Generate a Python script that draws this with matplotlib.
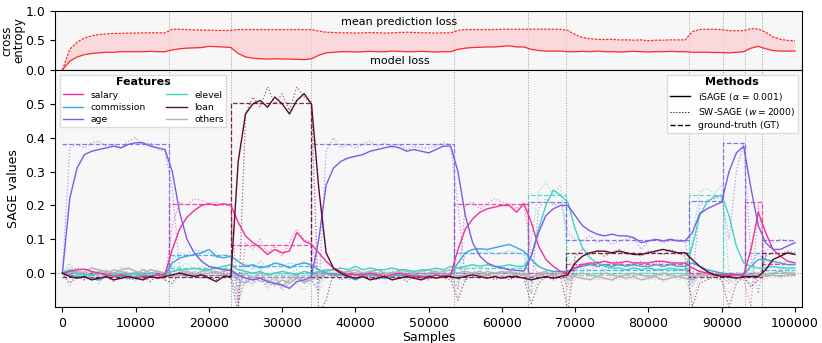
import numpy as np
import matplotlib.pyplot as plt
from matplotlib.lines import Line2D

# sample positions of the read-off values (every 1000 samples)
samples = np.arange(0, 100001, 1000)

# concept drift positions
drifts = [14500, 23000, 34000, 53500, 63500, 68800, 85500, 90200, 93200, 95500]

# ---- top panel: losses
model_loss = [
    0.0, 0.15, 0.22, 0.26, 0.28, 0.29, 0.30, 0.30, 0.31, 0.31,
    0.31, 0.31, 0.315, 0.31, 0.31, 0.34, 0.36, 0.37, 0.375, 0.38,
    0.40, 0.395, 0.39, 0.38, 0.28, 0.22, 0.20, 0.19, 0.185, 0.19,
    0.185, 0.185, 0.18, 0.175, 0.19, 0.25, 0.29, 0.30, 0.31, 0.31,
    0.305, 0.31, 0.315, 0.31, 0.31, 0.32, 0.315, 0.31, 0.31, 0.315,
    0.31, 0.305, 0.31, 0.31, 0.35, 0.37, 0.38, 0.385, 0.39, 0.39,
    0.40, 0.41, 0.39, 0.39, 0.35, 0.33, 0.32, 0.32, 0.32, 0.31,
    0.31, 0.315, 0.31, 0.32, 0.31, 0.31, 0.305, 0.31, 0.315, 0.31,
    0.305, 0.31, 0.31, 0.315, 0.31, 0.31, 0.30, 0.30, 0.30, 0.295,
    0.295, 0.29, 0.30, 0.31, 0.37, 0.40, 0.36, 0.33, 0.32, 0.32,
    0.32]
mean_pred_loss = [
    0.0, 0.35, 0.47, 0.54, 0.58, 0.60, 0.61, 0.62, 0.62, 0.625,
    0.625, 0.63, 0.63, 0.63, 0.63, 0.69, 0.69, 0.685, 0.68, 0.675,
    0.675, 0.67, 0.67, 0.67, 0.685, 0.685, 0.685, 0.685, 0.685, 0.685,
    0.685, 0.685, 0.685, 0.685, 0.685, 0.66, 0.64, 0.635, 0.63, 0.63,
    0.625, 0.63, 0.635, 0.63, 0.625, 0.63, 0.635, 0.64, 0.635, 0.63,
    0.63, 0.625, 0.63, 0.63, 0.67, 0.685, 0.685, 0.685, 0.685, 0.685,
    0.69, 0.69, 0.69, 0.69, 0.69, 0.69, 0.69, 0.69, 0.69, 0.67,
    0.60, 0.55, 0.53, 0.52, 0.515, 0.52, 0.51, 0.51, 0.505, 0.51,
    0.495, 0.505, 0.505, 0.51, 0.51, 0.51, 0.65, 0.685, 0.69, 0.69,
    0.685, 0.665, 0.665, 0.665, 0.70, 0.695, 0.64, 0.56, 0.52, 0.50,
    0.495]

# ---- bottom panel: iSAGE values
age_isage = [
    0.0, 0.22, 0.31, 0.35, 0.36, 0.365, 0.37, 0.375, 0.37, 0.38,
    0.385, 0.385, 0.375, 0.37, 0.365, 0.30, 0.18, 0.10, 0.06, 0.035,
    0.02, 0.015, 0.01, 0.008, -0.005, -0.015, -0.02, -0.015, -0.025, -0.03,
    -0.035, -0.045, -0.025, -0.02, -0.01, 0.10, 0.26, 0.31, 0.33, 0.34,
    0.345, 0.35, 0.36, 0.365, 0.37, 0.375, 0.37, 0.36, 0.365, 0.36,
    0.355, 0.365, 0.375, 0.375, 0.30, 0.17, 0.09, 0.05, 0.03, 0.02,
    0.015, 0.01, 0.008, 0.006, 0.05, 0.12, 0.17, 0.19, 0.20, 0.20,
    0.17, 0.14, 0.125, 0.115, 0.11, 0.115, 0.11, 0.11, 0.105, 0.09,
    0.095, 0.10, 0.095, 0.10, 0.095, 0.095, 0.12, 0.175, 0.19, 0.20,
    0.21, 0.30, 0.355, 0.375, 0.25, 0.14, 0.09, 0.07, 0.07, 0.08,
    0.09]
salary_isage = [
    0.0, 0.005, 0.01, 0.012, 0.005, 0.0, -0.005, -0.01, -0.005, -0.01,
    -0.015, -0.01, -0.01, -0.005, -0.005, 0.07, 0.13, 0.165, 0.185, 0.20,
    0.205, 0.20, 0.205, 0.20, 0.15, 0.11, 0.09, 0.075, 0.055, 0.07,
    0.06, 0.065, 0.12, 0.095, 0.085, 0.06, 0.035, 0.015, 0.005, -0.005,
    -0.005, -0.005, 0.0, -0.005, -0.01, -0.005, 0.0, -0.005, -0.01, -0.01,
    -0.015, -0.005, -0.01, -0.005, 0.07, 0.13, 0.16, 0.18, 0.19, 0.195,
    0.20, 0.20, 0.18, 0.205, 0.15, 0.08, 0.04, 0.02, 0.005, 0.0,
    0.015, 0.025, 0.03, 0.03, 0.035, 0.03, 0.03, 0.035, 0.03, 0.03,
    0.03, 0.035, 0.035, 0.03, 0.03, 0.03, 0.015, 0.005, 0.0, -0.005,
    -0.005, -0.005, -0.005, -0.005, 0.07, 0.18, 0.12, 0.07, 0.05, 0.035,
    0.03]
commission_isage = [
    0.0, -0.005, -0.01, -0.01, -0.015, -0.02, -0.01, -0.005, -0.01, -0.015,
    -0.01, -0.005, -0.01, -0.005, -0.005, 0.03, 0.045, 0.05, 0.055, 0.06,
    0.07, 0.05, 0.045, 0.05, 0.035, 0.02, 0.025, 0.015, 0.02, 0.03,
    0.025, 0.015, 0.025, 0.03, 0.025, 0.01, 0.0, -0.005, -0.005, -0.01,
    -0.02, -0.01, -0.005, -0.01, -0.015, -0.01, -0.005, -0.01, -0.005, -0.01,
    -0.01, -0.005, -0.01, -0.005, 0.03, 0.06, 0.07, 0.072, 0.07, 0.075,
    0.08, 0.085, 0.075, 0.065, 0.04, 0.02, 0.01, 0.005, 0.005, 0.005,
    0.015, 0.02, 0.025, 0.02, 0.025, 0.02, 0.025, 0.02, 0.025, 0.02,
    0.02, 0.025, 0.02, 0.025, 0.02, 0.02, 0.03, 0.02, 0.01, 0.005,
    0.0, -0.005, -0.005, -0.005, 0.02, 0.04, 0.04, 0.035, 0.03, 0.025,
    0.025]
elevel_isage = [
    0.0, 0.01, 0.0, -0.005, -0.005, 0.0, -0.005, -0.005, 0.0, -0.005,
    0.0, -0.005, 0.0, -0.005, -0.005, 0.005, 0.01, 0.01, 0.015, 0.01,
    0.01, 0.015, 0.02, 0.025, 0.01, 0.005, 0.0, 0.005, -0.005, 0.0,
    0.005, 0.0, -0.005, 0.005, 0.0, 0.005, 0.01, 0.01, 0.015, 0.01,
    0.02, 0.01, 0.015, 0.01, 0.01, 0.015, 0.01, 0.01, 0.005, 0.01,
    0.01, 0.015, 0.01, 0.02, 0.015, 0.02, 0.025, 0.02, 0.025, 0.02,
    0.02, 0.025, 0.02, 0.02, 0.05, 0.13, 0.20, 0.245, 0.23, 0.21,
    0.13, 0.075, 0.045, 0.03, 0.02, 0.015, 0.015, 0.01, 0.015, 0.01,
    0.015, 0.01, 0.01, 0.015, 0.01, 0.01, 0.08, 0.17, 0.21, 0.225,
    0.23, 0.17, 0.08, 0.03, 0.02, 0.015, 0.015, 0.02, 0.015, 0.015,
    0.015]
loan_isage = [
    0.0, -0.01, -0.015, -0.01, -0.02, -0.015, -0.01, -0.02, -0.015, -0.01,
    -0.015, -0.02, -0.01, -0.015, -0.01, -0.005, 0.0, -0.005, -0.01, -0.005,
    -0.015, -0.025, -0.01, -0.01, 0.33, 0.47, 0.50, 0.51, 0.49, 0.52,
    0.50, 0.47, 0.51, 0.53, 0.50, 0.25, 0.06, 0.015, 0.0, -0.01,
    -0.015, -0.01, -0.02, -0.015, -0.01, -0.02, -0.015, -0.01, -0.015, -0.02,
    -0.01, -0.015, -0.01, -0.01, -0.015, -0.01, -0.005, -0.01, -0.015, -0.01,
    -0.015, -0.01, -0.01, -0.015, -0.02, -0.015, -0.01, -0.015, -0.01, -0.005,
    0.03, 0.05, 0.06, 0.065, 0.065, 0.06, 0.065, 0.06, 0.055, 0.055,
    0.06, 0.065, 0.07, 0.065, 0.06, 0.06, 0.04, 0.02, 0.005, -0.005,
    -0.01, -0.01, -0.015, -0.01, -0.01, -0.01, 0.01, 0.04, 0.05, 0.06,
    0.055]
others1_isage = [
    0.0, 0.0, 0.005, 0.0, -0.005, 0.005, 0.0, 0.01, 0.005, 0.0,
    -0.005, 0.01, 0.0, 0.005, 0.0, -0.01, -0.005, 0.005, 0.0, -0.005,
    0.0, 0.005, -0.005, 0.0, -0.02, -0.03, -0.01, -0.025, -0.02, -0.035,
    -0.02, -0.03, -0.015, -0.025, -0.02, -0.01, 0.0, -0.005, 0.0, 0.005,
    0.0, -0.005, 0.005, 0.0, -0.01, 0.0, 0.005, -0.005, 0.0, -0.01,
    0.0, 0.005, -0.005, 0.0, -0.01, -0.005, 0.0, 0.005, -0.005, 0.0,
    0.005, 0.0, -0.005, 0.0, -0.01, -0.005, 0.0, -0.005, 0.0, -0.01,
    -0.005, 0.0, -0.005, -0.01, 0.0, -0.005, -0.01, -0.005, 0.0, -0.005,
    -0.01, -0.005, 0.0, -0.005, -0.01, -0.005, -0.01, -0.005, 0.0, -0.005,
    0.0, -0.01, -0.005, 0.0, -0.005, 0.0, -0.005, 0.0, 0.005, 0.0,
    0.0]
others2_isage = [
    0.0, 0.01, -0.005, 0.005, 0.015, 0.01, 0.005, 0.0, 0.01, 0.015,
    0.005, 0.0, 0.01, 0.005, 0.0, 0.005, 0.01, 0.0, -0.005, 0.005,
    0.01, 0.0, 0.005, 0.01, -0.01, 0.0, -0.02, 0.005, -0.03, -0.01,
    -0.04, -0.02, 0.0, -0.03, -0.01, 0.0, 0.005, 0.01, 0.0, 0.005,
    0.01, 0.0, 0.005, 0.01, 0.0, -0.005, 0.01, 0.005, 0.0, 0.005,
    0.01, 0.0, 0.005, 0.01, 0.0, 0.005, 0.0, -0.005, 0.005, 0.0,
    0.0, 0.005, 0.0, -0.005, -0.02, 0.0, 0.005, -0.01, 0.0, -0.02,
    -0.01, -0.015, -0.02, -0.01, -0.015, -0.02, -0.01, -0.015, -0.01, -0.02,
    -0.015, -0.01, -0.02, -0.015, -0.01, -0.015, -0.02, -0.01, -0.005, -0.01,
    -0.005, -0.01, 0.0, -0.005, -0.01, -0.005, -0.01, -0.005, -0.01, -0.005,
    -0.005]

# ---- bottom panel: SW-SAGE values
age_sw = [
    0.0, 0.37, 0.38, 0.37, 0.385, 0.39, 0.375, 0.38, 0.37, 0.39,
    0.40, 0.38, 0.385, 0.365, 0.36, 0.25, 0.01, -0.01, 0.005, 0.0,
    0.005, 0.0, 0.005, -0.005, -0.08, -0.02, -0.03, -0.01, -0.04, -0.02,
    -0.05, -0.03, -0.01, -0.03, -0.02, -0.05, 0.36, 0.40, 0.37, 0.38,
    0.37, 0.38, 0.39, 0.375, 0.385, 0.37, 0.38, 0.365, 0.375, 0.37,
    0.37, 0.375, 0.385, 0.38, 0.20, -0.02, 0.005, 0.0, -0.005, 0.0,
    0.005, 0.0, -0.005, 0.0, -0.06, 0.19, 0.22, 0.20, 0.21, 0.12,
    0.10, 0.095, 0.11, 0.09, 0.10, 0.085, 0.095, 0.10, 0.105, 0.07,
    0.095, 0.10, 0.09, 0.095, 0.10, 0.095, -0.03, 0.20, 0.215, 0.22,
    0.225, 0.10, 0.30, 0.385, 0.05, -0.06, 0.06, 0.09, 0.10, 0.095,
    0.095]
salary_sw = [
    0.0, 0.01, 0.015, 0.0, 0.005, -0.01, 0.0, -0.015, -0.005, -0.02,
    -0.01, -0.02, 0.0, -0.01, -0.02, 0.14, 0.21, 0.20, 0.22, 0.215,
    0.205, 0.21, 0.20, 0.205, -0.10, 0.09, 0.07, 0.10, 0.06, 0.08,
    0.05, 0.09, 0.13, 0.10, 0.09, -0.02, 0.0, -0.01, 0.005, -0.01,
    0.0, -0.005, -0.01, 0.0, -0.01, 0.005, -0.005, -0.01, 0.0, -0.01,
    -0.005, 0.0, -0.01, -0.005, -0.05, 0.20, 0.21, 0.19, 0.205, 0.22,
    0.21, 0.205, 0.19, 0.21, 0.05, -0.01, 0.0, -0.005, 0.0, -0.04,
    0.02, 0.03, 0.025, 0.035, 0.025, 0.03, 0.035, 0.02, 0.03, 0.035,
    0.025, 0.03, 0.03, 0.035, 0.025, 0.03, -0.02, 0.0, -0.01, 0.005,
    0.0, -0.02, -0.01, -0.02, -0.10, 0.20, 0.04, 0.03, 0.025, 0.035,
    0.03]
commission_sw = [
    0.0, -0.01, 0.01, -0.02, -0.005, -0.03, 0.0, -0.01, -0.02, -0.01,
    0.005, -0.015, -0.01, 0.0, -0.01, 0.04, 0.06, 0.055, 0.07, 0.065,
    0.06, 0.045, 0.055, 0.05, -0.06, 0.03, 0.01, 0.035, 0.015, 0.03,
    0.02, 0.03, 0.025, 0.035, 0.02, -0.03, 0.0, -0.01, -0.005, -0.02,
    -0.01, 0.0, -0.01, -0.005, -0.02, 0.0, -0.01, -0.015, 0.0, -0.01,
    -0.005, -0.01, 0.0, -0.01, -0.04, 0.06, 0.055, 0.06, 0.065, 0.055,
    0.06, 0.065, 0.06, 0.055, -0.03, 0.0, -0.005, 0.0, 0.005, -0.02,
    0.01, 0.015, 0.01, 0.02, 0.01, 0.015, 0.005, 0.01, 0.02, 0.01,
    0.015, 0.01, 0.02, 0.01, 0.015, 0.01, -0.04, 0.01, -0.005, 0.0,
    -0.01, -0.03, 0.0, -0.01, 0.03, 0.06, 0.02, 0.015, 0.02, 0.01,
    0.015]
elevel_sw = [
    0.0, 0.03, -0.01, 0.005, -0.01, 0.0, 0.01, -0.005, 0.0, -0.01,
    0.005, -0.01, 0.0, 0.005, -0.01, 0.02, 0.015, 0.03, 0.01, 0.02,
    0.015, 0.02, 0.01, 0.03, -0.04, 0.0, -0.02, 0.01, -0.01, 0.005,
    -0.01, 0.0, 0.01, -0.01, 0.0, -0.02, 0.005, 0.015, 0.0, 0.01,
    0.005, 0.01, 0.0, 0.01, 0.005, 0.0, 0.01, 0.005, 0.0, 0.01,
    0.0, 0.01, 0.005, 0.01, -0.02, 0.02, 0.015, 0.02, 0.01, 0.015,
    0.02, 0.01, 0.015, 0.02, 0.10, 0.24, 0.27, 0.23, 0.26, 0.05,
    0.0, 0.005, -0.01, 0.0, 0.005, -0.005, 0.0, 0.01, -0.005, 0.0,
    0.005, 0.0, -0.005, 0.01, 0.0, -0.005, 0.10, 0.24, 0.25, 0.235,
    0.26, 0.0, -0.02, 0.0, 0.01, -0.005, 0.005, 0.0, 0.01, 0.005,
    0.0]
loan_sw = [
    0.0, -0.03, -0.01, -0.02, 0.0, -0.02, -0.01, -0.025, -0.005, -0.015,
    -0.02, -0.01, -0.025, -0.005, -0.02, -0.03, 0.005, -0.01, 0.0, -0.015,
    -0.01, -0.02, 0.0, -0.015, -0.12, 0.47, 0.52, 0.49, 0.55, 0.50,
    0.53, 0.48, 0.55, 0.52, 0.50, -0.12, -0.08, 0.0, -0.02, -0.01,
    -0.02, 0.0, -0.015, -0.02, -0.005, -0.02, -0.01, -0.025, -0.01, -0.015,
    -0.02, -0.005, -0.015, -0.02, -0.08, -0.02, -0.01, -0.015, -0.005, -0.02,
    -0.01, -0.02, -0.01, -0.015, -0.09, -0.03, -0.01, -0.02, -0.01, -0.11,
    0.05, 0.07, 0.055, 0.065, 0.05, 0.06, 0.07, 0.055, 0.06, 0.05,
    0.065, 0.06, 0.055, 0.07, 0.06, 0.05, -0.10, -0.03, -0.02, -0.01,
    -0.02, -0.10, -0.03, -0.01, -0.04, -0.02, 0.05, 0.06, 0.055, 0.065,
    0.06]
others1_sw = [
    0.0, -0.04, 0.01, -0.01, 0.02, -0.005, 0.01, -0.015, 0.02, 0.0,
    -0.01, 0.015, -0.005, 0.01, -0.02, -0.04, 0.005, -0.01, 0.01, -0.005,
    0.01, -0.01, 0.005, -0.005, -0.09, -0.02, -0.04, -0.01, -0.05, -0.02,
    -0.04, -0.01, -0.03, -0.05, -0.02, -0.06, 0.01, -0.005, 0.01, -0.01,
    0.005, -0.01, 0.01, -0.005, 0.0, 0.01, -0.01, 0.005, -0.015, 0.0,
    0.01, -0.01, 0.005, -0.005, -0.07, 0.0, -0.01, 0.01, -0.005, 0.0,
    -0.01, 0.005, -0.01, 0.0, -0.06, -0.02, 0.0, -0.01, 0.005, -0.05,
    -0.02, -0.005, -0.015, -0.02, -0.01, -0.025, -0.01, -0.02, -0.015, -0.005,
    -0.02, -0.01, -0.025, -0.01, -0.015, -0.02, -0.07, -0.02, -0.01, -0.005,
    -0.02, -0.06, -0.01, -0.02, -0.03, -0.01, -0.02, -0.005, -0.015, -0.01,
    -0.01]
others2_sw = [
    0.0, 0.02, -0.01, 0.005, -0.02, 0.01, -0.01, 0.005, -0.005, 0.015,
    0.0, -0.01, 0.01, -0.015, 0.005, 0.02, -0.01, 0.005, -0.01, 0.01,
    -0.005, 0.01, -0.01, 0.005, -0.05, 0.01, -0.03, 0.0, -0.02, -0.04,
    0.0, -0.03, -0.01, -0.02, -0.04, -0.03, 0.0, 0.01, -0.01, 0.005,
    -0.01, 0.005, -0.005, 0.01, -0.01, 0.005, 0.0, -0.01, 0.01, -0.005,
    0.0, 0.01, -0.01, 0.005, -0.03, 0.01, 0.0, -0.01, 0.005, -0.005,
    0.005, -0.005, 0.01, -0.01, -0.04, 0.0, -0.01, 0.005, -0.01, -0.03,
    -0.01, -0.02, -0.005, -0.015, -0.02, -0.01, -0.02, -0.005, -0.02, -0.015,
    -0.01, -0.02, -0.015, -0.005, -0.02, -0.01, -0.04, 0.0, -0.015, -0.01,
    -0.005, -0.03, -0.02, -0.005, -0.04, -0.01, 0.0, -0.015, -0.005, -0.01,
    -0.005]

# ---- ground truth per segment (between drifts)
gt_bounds = [0] + drifts + [100000]
age_gt = [0.382, -0.005, -0.01, 0.382, 0.0, 0.21, 0.097, 0.213, 0.385, 0.0, 0.097]
salary_gt = [0.0, 0.205, 0.083, 0.0, 0.205, 0.0, 0.027, 0.0, 0.0, 0.21, 0.027]
commission_gt = [0.0, 0.055, 0.022, 0.0, 0.06, 0.0, 0.01, 0.0, 0.0, 0.06, 0.01]
elevel_gt = [0.0, 0.015, 0.0, 0.0, 0.015, 0.232, 0.0, 0.232, 0.0, 0.0, 0.0]
loan_gt = [-0.01, -0.01, 0.502, -0.01, -0.01, -0.01, 0.058, -0.01, -0.01, -0.01, 0.058]
others_gt = [-0.005] * 11

colors = {'salary': '#f0309a', 'commission': '#3aa6e0', 'age': '#7b5ce6',
          'elevel': '#3fd3c6', 'loan': '#5a0a2a', 'others': '#b3b3b3'}

features = [
    ('others', [others1_isage, others2_isage], [others1_sw, others2_sw], others_gt),
    ('commission', [commission_isage], [commission_sw], commission_gt),
    ('elevel', [elevel_isage], [elevel_sw], elevel_gt),
    ('salary', [salary_isage], [salary_sw], salary_gt),
    ('age', [age_isage], [age_sw], age_gt),
    ('loan', [loan_isage], [loan_sw], loan_gt),
]

fig = plt.figure(figsize=(8.22, 3.43), dpi=100)
ax1 = fig.add_axes([0.067, 0.796, 0.909, 0.172])
ax2 = fig.add_axes([0.067, 0.105, 0.909, 0.691], sharex=ax1)

bg = '#f7f7f7'
for ax in (ax1, ax2):
    ax.set_facecolor(bg)
    for d in drifts:
        ax.axvline(d, color='#9a9a9a', ls=':', lw=0.7, zorder=1)
    ax.tick_params(labelsize=9)

# top panel
ax1.fill_between(samples, model_loss, mean_pred_loss, color='#fad0d4', alpha=0.75, lw=0)
ax1.plot(samples, mean_pred_loss, color='#ff2a2a', ls=(0, (2, 1)), lw=0.9)
ax1.plot(samples, model_loss, color='#ff2a2a', lw=0.9)
ax1.text(46000, 0.81, 'mean prediction loss', ha='center', va='center', fontsize=8)
ax1.text(46000, 0.15, 'model loss', ha='center', va='center', fontsize=8)
ax1.set_ylim(0, 1)
ax1.set_yticks([0.0, 0.5, 1.0])
ax1.set_ylabel('cross\nentropy', fontsize=8.5, linespacing=0.9)
ax1.yaxis.set_label_coords(-0.040, 0.5)
ax1.tick_params(labelbottom=False)

# bottom panel
ax2.axhline(0, color='#9a9a9a', ls=':', lw=0.8, zorder=1)
for name, isage_list, sw_list, gt in features:
    c = colors[name]
    ax2.step(gt_bounds, gt + [gt[-1]], where='post', color=c, ls='--', lw=0.9, alpha=0.85, zorder=2)
    for sw in sw_list:
        ax2.plot(samples, sw, color=c, ls=':', lw=0.9, alpha=0.6, zorder=3)
    for iv in isage_list:
        ax2.plot(samples, iv, color=c, lw=1.0, zorder=4)

ax2.set_xlim(-1000, 101000)
ax2.set_ylim(-0.1, 0.6)
ax2.set_yticks([0.0, 0.1, 0.2, 0.3, 0.4, 0.5])
ax2.set_xticks(np.arange(0, 100001, 10000))
ax2.set_xlabel('Samples', fontsize=9, labelpad=1)
ax2.set_ylabel('SAGE values', fontsize=9)

feat_order = ['salary', 'commission', 'age', 'elevel', 'loan', 'others']
feat_handles = [Line2D([], [], color=colors[f], lw=1.0) for f in feat_order]
leg1 = ax2.legend(feat_handles, feat_order, title='Features', ncol=2, loc='upper left',
                  fontsize=6.7, title_fontproperties={'weight': 'bold', 'size': 8},
                  handlelength=2.2, columnspacing=2.2, labelspacing=0.35,
                  borderpad=0.3, fancybox=False, framealpha=1, edgecolor='#dddddd')
ax2.add_artist(leg1)

meth_handles = [Line2D([], [], color='k', lw=1.0, ls='-'),
                Line2D([], [], color='k', lw=0.8, ls=':'),
                Line2D([], [], color='k', lw=1.0, ls='--')]
meth_labels = [r'iSAGE ($\alpha$ = 0.001)', r'SW-SAGE ($w = 2000$)', 'ground-truth (GT)']
ax2.legend(meth_handles, meth_labels, title='Methods', loc='upper right',
           fontsize=6.7, title_fontproperties={'weight': 'bold', 'size': 8},
           handlelength=2.2, labelspacing=0.35, borderpad=0.3,
           fancybox=False, framealpha=1, edgecolor='#dddddd')

fig.savefig('out.png', dpi=100)
